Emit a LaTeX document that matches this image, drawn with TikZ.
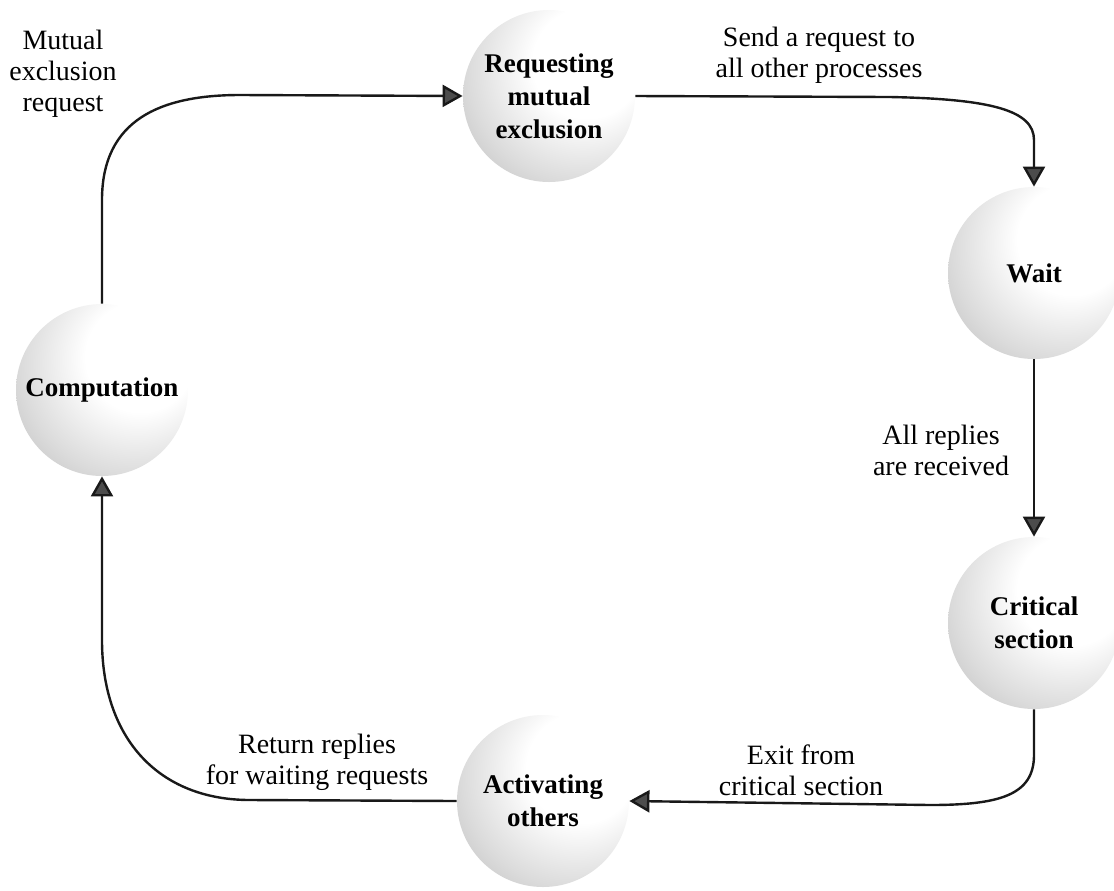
\documentclass[tikz,border=0pt]{standalone}
\usepackage{fontspec}
\setmainfont{Liberation Serif}
\usetikzlibrary{arrows.meta}
% grey sphere-like fill of the circles, light to the upper right
\pgfdeclareradialshading{blob}{\pgfpoint{14bp}{12bp}}{%
  color(0bp)=(white); color(16bp)=(white); color(32bp)=(black!14);
  color(48bp)=(black!30); color(62bp)=(black!50); color(80bp)=(black!52)}
\definecolor{tipgray}{gray}{0.3}
\definecolor{linegray}{gray}{0.1}
\begin{document}
\begin{tikzpicture}[x=0.5pt,y=-0.5pt]
	% size of each circle
	\def\sz{86pt}
	% node style definition
	\tikzstyle{phase} = [circle, shade, shading=blob, minimum size=\sz, inner sep=0pt, align=center, font=\bfseries\fontsize{13.5}{16.5}\selectfont];
	\tikzstyle{note} = [align=center, font=\fontsize{14}{15.5}\selectfont];
	\tikzstyle{flow} = [line width=1.2pt, draw=linegray, -{Triangle[width=11pt,length=10pt,fill=tipgray]}];
	\useasboundingbox (0,0) rectangle (1114,890);
	% the five phases
	\node[phase] (req) at (549,96) {Requesting\\mutual\\exclusion};
	\node[phase] (wait) at (1034,273) {Wait};
	\node[phase] (comp) at (102,390) {Computation};
	\node[phase] (crit) at (1034,623) {Critical\\section};
	\node[phase] (act) at (543,801) {Activating\\others};
	% texts on the transitions
	\node[note] (mutreq) at (63,74) {Mutual\\exclusion\\request};
	\node[note] (sendreq) at (819,55) {Send a request to\\all other processes};
	\node[note] (allrep) at (941,450) {All replies\\are received};
	\node[note] (exitcs) at (801,770) {Exit from\\critical section};
	\node[note] (retrep) at (317,762) {Return replies\\for waiting requests};
	% transitions
	\draw[flow] (comp.north) -- (102,200) .. controls (102,120) and (160,95) .. (240,95) -- (req.west);
	\draw[flow] (req.east) -- (890,97) .. controls (990,99) and (1034,110) .. (1034,140) -- (wait.north);
	\draw[flow] (wait.south) -- (crit.north);
	\draw[flow] (crit.south) -- (1034,755) .. controls (1034,795) and (1000,805) .. (930,805) -- (act.east);
	\draw[flow] (act.west) -- (250,800) .. controls (160,800) and (102,740) .. (102,640) -- (comp.south);
\end{tikzpicture}
\end{document}
